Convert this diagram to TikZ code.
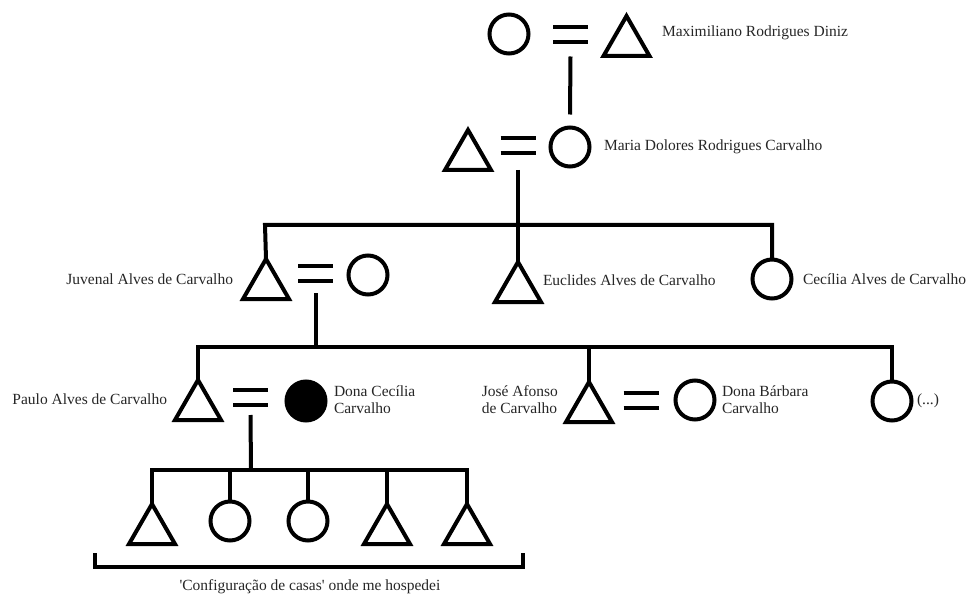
\documentclass[tikz,border=0pt]{standalone}
\usepackage{fontspec}
\newfontfamily\tnr{Liberation Serif}
\usetikzlibrary{shapes.geometric}
\tikzset{
  every node/.style={inner sep=0pt, outer sep=0pt},
  lbl/.style={font=\tnr\fontsize{15.5}{17}\selectfont, text=black!85},
  tri/.style={draw, line width=4pt, isosceles triangle, shape border rotate=90,
    isosceles triangle stretches, minimum width=46pt, minimum height=40pt, line join=miter, anchor=apex},
  circ/.style={draw, line width=4pt, circle, minimum size=39pt},
  fcirc/.style={circ, fill=black},
  ln/.style={line width=4pt},
}
\newcommand{\eqsign}[1]{%
  \draw[ln] ([shift={(-17.5,-7.5)}]#1) -- ([shift={(17.5,-7.5)}]#1);
  \draw[ln] ([shift={(-17.5,7.5)}]#1) -- ([shift={(17.5,7.5)}]#1);}
\begin{document}
\begin{tikzpicture}[x=1pt,y=-1pt]
\useasboundingbox (0,0) rectangle (972,596);
% generation 1
\node[circ] (g1w) at (509,34) {};
\node[tri] (g1h) at (626.5,16) {};
\coordinate (m1) at (570.5,34.5);
\eqsign{m1}
\node[lbl,anchor=west] (l1) at (662,33) {Maximiliano Rodrigues Diniz};
% generation 2
\node[tri] (g2h) at (468,130) {};
\node[circ] (g2w) at (570,147) {};
\coordinate (m2) at (518,145.5);
\eqsign{m2}
\node[lbl,anchor=west] (l2) at (604,147) {Maria Dolores Rodrigues Carvalho};
\draw[ln] ([shift={(0,22)}]m1) -- ([shift={(0,-13)}]g2w.north);
% generation 3
\coordinate (b3) at (518,225);
\coordinate (b3l) at (265,225);
\coordinate (b3r) at (772,225);
\node[tri] (juv) at (266,259) {};
\node[circ] (juvw) at (368,275) {};
\coordinate (m3) at (315.5,273.5);
\eqsign{m3}
\node[tri] (euc) at (518,262) {};
\node[circ] (cec) at (772,279) {};
\draw[ln] ([shift={(0,24.5)}]m2) -- (euc.apex);
\draw[ln] (juv.apex) -- (b3l) -- (b3r) -- (cec.north);
\node[lbl,anchor=east] (l3a) at (233,279) {Juvenal Alves de Carvalho};
\node[lbl,anchor=west] (l3b) at (543,280) {Euclides Alves de Carvalho};
\node[lbl,anchor=west] (l3c) at (803,279) {Cecília Alves de Carvalho};
% generation 4
\coordinate (b4) at (315.5,347);
\coordinate (b4l) at (198,347);
\coordinate (b4r) at (892,347);
\node[tri] (pau) at (198,380) {};
\node[fcirc] (pauw) at (306,401) {};
\coordinate (m4) at (250.5,397);
\eqsign{m4}
\node[tri] (jos) at (589,382) {};
\node[circ] (josw) at (695,400) {};
\coordinate (m5) at (641,400);
\eqsign{m5}
\node[circ] (etc) at (892,401) {};
\draw[ln] ([shift={(0,19.5)}]m3) -- (b4);
\draw[ln] (pau.apex) -- (b4l) -- (b4r) -- (etc.north);
\draw[ln] (jos.apex |- b4) -- (jos.apex);
\node[lbl,anchor=east] (l4a) at (167,399) {Paulo Alves de Carvalho};
\node[lbl,anchor=west,align=left] (l4b) at (334,400) {Dona Cecília\\Carvalho};
\node[lbl,anchor=east,align=left] (l4c) at (558,400) {José Afonso\\de Carvalho};
\node[lbl,anchor=west,align=left] (l4d) at (722,400) {Dona Bárbara\\Carvalho};
\node[lbl,anchor=west] (l4e) at (917,401) {(...)};
% generation 5
\coordinate (b5) at (251,470);
\node[tri] (c1) at (152,504) {};
\node[circ] (c2) at (230,521) {};
\node[circ] (c3) at (308,521) {};
\node[tri] (c4) at (387,504) {};
\node[tri] (c5) at (467,504) {};
\draw[ln] ([shift={(0,18)}]m4) -- (b5);
\draw[ln] (c1.apex) -- (c1.apex |- b5) -- (c5.apex |- b5) -- (c5.apex);
\draw[ln] (c2.north |- b5) -- (c2.north);
\draw[ln] (c3.north |- b5) -- (c3.north);
\draw[ln] (c4.apex |- b5) -- (c4.apex);
% bracket
\coordinate (br1) at (95,553);
\coordinate (br2) at (523,553);
\draw[ln] (br1) -- ([shift={(0,14)}]br1) -- ([shift={(0,14)}]br2) -- (br2);
\node[lbl] (cap) at (310,587) {\symbol{39}Configuração de casas\symbol{39} onde me hospedei};
\end{tikzpicture}
\end{document}
